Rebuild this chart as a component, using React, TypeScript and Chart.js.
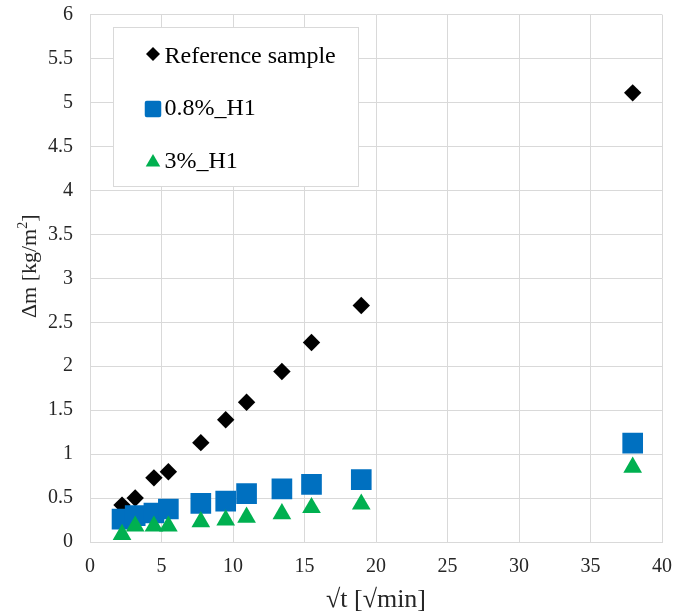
import React, { useEffect, useRef } from 'react';
import { Chart, registerables } from 'chart.js';

Chart.register(...registerables);

// ---- data ----
const sqrtTime = [2.24, 3.16, 4.47, 5.48, 7.75, 9.49, 10.95, 13.42, 15.49, 18.97, 37.95];
const referenceSample = [0.42, 0.5, 0.73, 0.8, 1.13, 1.39, 1.59, 1.94, 2.27, 2.69, 5.11];
const h1_08 = [0.26, 0.3, 0.33, 0.375, 0.44, 0.465, 0.55, 0.605, 0.655, 0.71, 1.125];
const h1_3 = [0.085, 0.18, 0.18, 0.18, 0.23, 0.25, 0.28, 0.32, 0.39, 0.43, 0.85];
const seriesNames = ['Reference sample', '0.8%_H1', '3%_H1'];
const xAxisTitle = '√t [√min]';
const yAxisTitleMain = 'Δm [kg/m';
const yAxisTitleSup = '2';
const yAxisTitleEnd = ']';
const xMin = 0, xMax = 40, xStep = 5;
const yMin = 0, yMax = 6, yStep = 0.5;

const FONT = '"Liberation Serif", "Times New Roman", serif';
const BLACK = '#000000';
const BLUE = '#0070C0';
const GREEN = '#00B050';
const GRID = '#D9D9D9';
const TEXT = '#262626';

const toPoints = (ys: number[]) => ys.map((y, i) => ({ x: sqrtTime[i], y }));
const fmt = (v: any) => String(Math.round(Number(v) * 100) / 100);

function pathDiamond(ctx: CanvasRenderingContext2D, x: number, y: number, r: number) {
  ctx.beginPath();
  ctx.moveTo(x - r, y);
  ctx.lineTo(x, y - r);
  ctx.lineTo(x + r, y);
  ctx.lineTo(x, y + r);
  ctx.closePath();
}
function pathSquare(ctx: CanvasRenderingContext2D, x: number, y: number, s: number, rad: number) {
  ctx.beginPath();
  const h = s / 2;
  if ((ctx as any).roundRect) (ctx as any).roundRect(x - h, y - h, s, s, rad);
  else ctx.rect(x - h, y - h, s, s);
  ctx.closePath();
}
function pathTriangle(ctx: CanvasRenderingContext2D, x: number, y: number, r: number) {
  const k = Math.sin(Math.PI / 3) * r;
  ctx.beginPath();
  ctx.moveTo(x, y - r);
  ctx.lineTo(x + k, y + r / 2);
  ctx.lineTo(x - k, y + r / 2);
  ctx.closePath();
}

const legendPlugin = {
  id: 'insideLegend',
  afterDraw(chart: any) {
    const { ctx, chartArea } = chart;
    const bx = Math.round(chartArea.left + 23) + 0.5;
    const by = Math.round(chartArea.top + 12) + 0.5;
    const bw = 245;
    const bh = 159;
    ctx.save();
    ctx.fillStyle = '#FFFFFF';
    ctx.fillRect(bx, by, bw, bh);
    ctx.strokeStyle = GRID;
    ctx.lineWidth = 1;
    ctx.strokeRect(bx, by, bw, bh);
    const mx = bx + 39.5;
    const tx = bx + 51;
    ctx.font = `24px ${FONT}`;
    ctx.textBaseline = 'alphabetic';
    ctx.textAlign = 'left';
    seriesNames.forEach((name, i) => {
      const base = by + 35 + i * 52.5;
      if (i === 0) {
        ctx.fillStyle = BLACK;
        pathDiamond(ctx, mx, base - 8.4, 7);
        ctx.fill();
      } else if (i === 1) {
        ctx.fillStyle = BLUE;
        pathSquare(ctx, mx, base - 6, 16.5, 2);
        ctx.fill();
      } else {
        ctx.fillStyle = GREEN;
        pathTriangle(ctx, mx, base - 5.2, 8.4);
        ctx.fill();
      }
      ctx.fillStyle = BLACK;
      ctx.fillText(name, tx, base);
    });
    ctx.restore();
  },
};

const yTitlePlugin = {
  id: 'yTitle',
  afterDraw(chart: any) {
    const { ctx, chartArea } = chart;
    const cx = 30;
    const cy = (chartArea.top + chartArea.bottom) / 2 - 12;
    ctx.save();
    ctx.translate(cx, cy);
    ctx.rotate(-Math.PI / 2);
    ctx.fillStyle = TEXT;
    ctx.textBaseline = 'middle';
    ctx.textAlign = 'left';
    const mainFont = `22px ${FONT}`;
    const supFont = `14px ${FONT}`;
    ctx.font = mainFont;
    const w1 = ctx.measureText(yAxisTitleMain).width;
    const w3 = ctx.measureText(yAxisTitleEnd).width;
    ctx.font = supFont;
    const w2 = ctx.measureText(yAxisTitleSup).width;
    const total = w1 + w2 + w3;
    let x = -total / 2;
    ctx.font = mainFont;
    ctx.fillText(yAxisTitleMain, x, 0);
    x += w1;
    ctx.font = supFont;
    ctx.fillText(yAxisTitleSup, x, -7);
    x += w2;
    ctx.font = mainFont;
    ctx.fillText(yAxisTitleEnd, x, 0);
    ctx.restore();
  },
};

export default function App() {
  const ref = useRef<HTMLCanvasElement>(null);
  useEffect(() => {
    document.body.style.margin = '0';
    const canvas = ref.current;
    if (!canvas) return;
    const chart = new Chart(canvas, {
      type: 'scatter',
      data: {
        datasets: [
          {
            label: seriesNames[0],
            data: toPoints(referenceSample),
            pointStyle: 'rectRot',
            pointRadius: 8.7,
            pointBackgroundColor: BLACK,
            pointBorderWidth: 0,
            borderColor: BLACK,
            backgroundColor: BLACK,
            order: 3,
          },
          {
            label: seriesNames[1],
            data: toPoints(h1_08),
            pointStyle: 'rect',
            pointRadius: 14.6,
            pointBackgroundColor: BLUE,
            pointBorderWidth: 0,
            borderColor: BLUE,
            backgroundColor: BLUE,
            order: 2,
          },
          {
            label: seriesNames[2],
            data: toPoints(h1_3),
            pointStyle: 'triangle',
            pointRadius: 10.8,
            pointBackgroundColor: GREEN,
            pointBorderWidth: 0,
            borderColor: GREEN,
            backgroundColor: GREEN,
            order: 1,
          },
        ],
      },
      options: {
        responsive: false,
        animation: false,
        devicePixelRatio: 1,
        layout: { padding: { top: 14, right: 24, bottom: 0, left: 0 } },
        plugins: { legend: { display: false }, tooltip: { enabled: false } },
        scales: {
          x: {
            type: 'linear',
            min: xMin,
            max: xMax,
            ticks: {
              stepSize: xStep,
              padding: 13,
              color: TEXT,
              font: { family: FONT, size: 20 },
              maxRotation: 0,
              callback: fmt,
            },
            grid: { color: GRID, drawTicks: false, lineWidth: 1 },
            border: { color: GRID, width: 1 },
            title: {
              display: true,
              text: xAxisTitle,
              color: TEXT,
              font: { family: FONT, size: 26, lineHeight: 1 },
              padding: { top: 0, bottom: 0 },
            },
            afterFit: (s: any) => {
              s.height = 71;
              s.paddingLeft = 0;
              s.paddingRight = 0;
            },
          },
          y: {
            type: 'linear',
            min: yMin,
            max: yMax,
            ticks: {
              stepSize: yStep,
              padding: 17,
              color: TEXT,
              font: { family: FONT, size: 20 },
              callback: fmt,
            },
            grid: { color: GRID, drawTicks: false, lineWidth: 1 },
            border: { color: GRID, width: 1 },
            title: { display: false },
            afterFit: (s: any) => {
              s.width = 90;
              s.paddingTop = 0;
              s.paddingBottom = 0;
            },
          },
        },
      },
      plugins: [legendPlugin, yTitlePlugin],
    } as any);
    return () => chart.destroy();
  }, []);
  return <canvas ref={ref} width={686} height={613} style={{ display: 'block' }} />;
}
